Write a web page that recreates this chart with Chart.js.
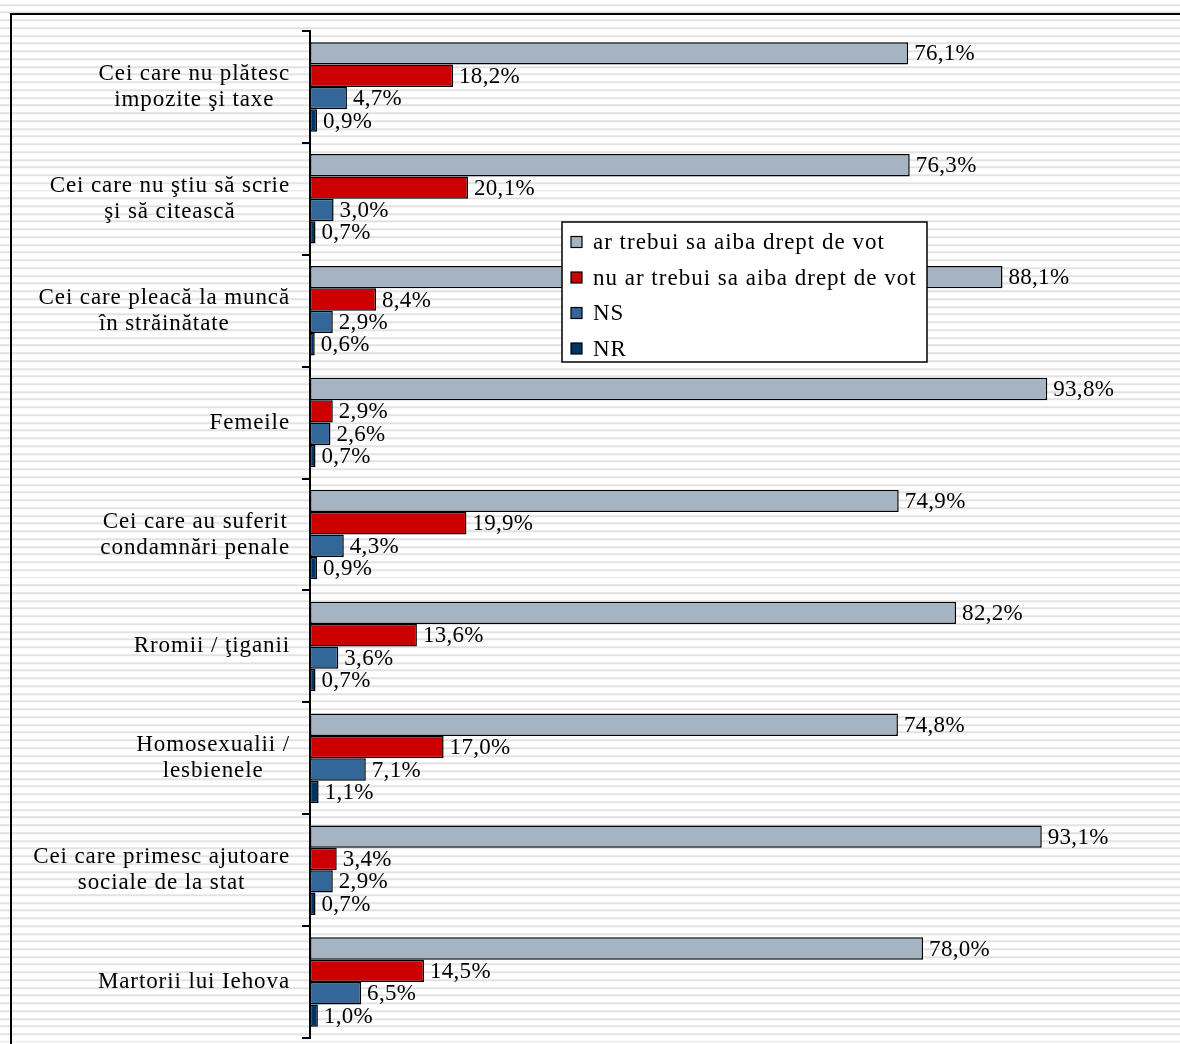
<!DOCTYPE html>
<html>
<head>
<meta charset="utf-8">
<script src="https://cdn.jsdelivr.net/npm/chart.js@4/dist/chart.umd.min.js"></script>
<style>
  html, body { margin: 0; padding: 0; }
  body {
    width: 1180px; height: 1044px; overflow: hidden; position: relative;
    background: repeating-linear-gradient(to bottom, #fff 0, #fff 5.74px, #e2e2e2 5.74px, #e2e2e2 7.74px);
    background-position: 0 -1.74px;
  }
  #frame {
    position: absolute; left: 10px; top: 13px; width: 1200px; height: 1100px;
    border-left: 2px solid #000; border-top: 2px solid #000;
  }
  #wrap { position: absolute; left: 0; top: 0; width: 1180px; height: 1044px; }
</style>
</head>
<body>
<div id="frame"></div>
<div id="wrap"><canvas id="myBarChart"></canvas></div>
<script>
// Data
var categories = [
  ["Cei care nu plătesc", "impozite şi taxe"],
  ["Cei care nu ştiu să scrie", "şi să citească"],
  ["Cei care pleacă la muncă", "în străinătate"],
  ["Femeile"],
  ["Cei care au suferit", "condamnări penale"],
  ["Rromii / ţiganii"],
  ["Homosexualii /", "lesbienele"],
  ["Cei care primesc ajutoare", "sociale de la stat"],
  ["Martorii lui Iehova"]
];
var seriesNames = ["ar trebui sa aiba drept de vot", "nu ar trebui sa aiba drept de vot", "NS", "NR"];
var daValues = [76.1, 76.3, 88.1, 93.8, 74.9, 82.2, 74.8, 93.1, 78.0];
var nuValues = [18.2, 20.1, 8.4, 2.9, 19.9, 13.6, 17.0, 3.4, 14.5];
var nsValues = [4.7, 3.0, 2.9, 2.6, 4.3, 3.6, 7.1, 2.9, 6.5];
var nrValues = [0.9, 0.7, 0.6, 0.7, 0.9, 0.7, 1.1, 0.7, 1.0];
var seriesColors = ["#a5b4c3", "#cc0000", "#336699", "#003366"];

var FONT = "23px 'Liberation Serif', 'Times New Roman', serif";

function fmt(v) {
  return v.toFixed(1).replace(".", ",") + "%";
}

// Value labels to the right of each bar
var valueLabels = {
  id: "valueLabels",
  afterDatasetsDraw: function (chart) {
    var ctx = chart.ctx;
    ctx.save();
    ctx.font = FONT;
    ctx.letterSpacing = "0.3px";
    ctx.fillStyle = "#000";
    ctx.textAlign = "left";
    ctx.textBaseline = "middle";
    chart.data.datasets.forEach(function (ds, di) {
      chart.getDatasetMeta(di).data.forEach(function (bar, i) {
        ctx.fillText(fmt(ds.data[i]), bar.x + 6, bar.y + 1);
      });
    });
    ctx.restore();
  }
};

// Category labels: block right aligned, lines centered inside the block
var categoryLabels = {
  id: "categoryLabels",
  afterDraw: function (chart) {
    var ctx = chart.ctx;
    var y = chart.scales.y;
    var right = y.right - 20;
    ctx.save();
    ctx.font = FONT;
    ctx.letterSpacing = "0.9px";
    ctx.fillStyle = "#000";
    ctx.textAlign = "center";
    ctx.textBaseline = "middle";
    categories.forEach(function (lines, i) {
      var w = 0;
      lines.forEach(function (l) { w = Math.max(w, ctx.measureText(l).width); });
      var cx = right - w / 2;
      var cy = y.getPixelForValue(i);
      var lh = 26;
      var top = cy - (lines.length - 1) * lh / 2;
      lines.forEach(function (l, k) {
        ctx.fillText(l, cx, top + k * lh);
      });
    });
    ctx.restore();
  }
};

// Legend box inside the plot
var boxLegend = {
  id: "boxLegend",
  afterDraw: function (chart) {
    var ctx = chart.ctx;
    ctx.save();
    ctx.fillStyle = "#fff";
    ctx.fillRect(562, 222, 365, 140);
    ctx.strokeStyle = "#000";
    ctx.lineWidth = 1.5;
    ctx.strokeRect(562, 222, 365, 140);
    ctx.font = FONT;
    ctx.letterSpacing = "1px";
    ctx.textBaseline = "middle";
    ctx.textAlign = "left";
    chart.data.datasets.forEach(function (ds, i) {
      var cy = 242 + i * 35.5;
      ctx.fillStyle = ds.backgroundColor;
      ctx.fillRect(571, cy - 5.5, 11, 11);
      ctx.lineWidth = 1.2;
      ctx.strokeRect(571, cy - 5.5, 11, 11);
      ctx.fillStyle = "#000";
      ctx.fillText(ds.label, 593, cy + 1);
    });
    ctx.restore();
  }
};

var ctx = document.getElementById("myBarChart");
var allValues = [daValues, nuValues, nsValues, nrValues];
var myBarChart = new Chart(ctx, {
  type: "bar",
  data: {
    labels: categories.map(function (c) { return c.join(" "); }),
    datasets: allValues.map(function (vals, i) {
      return {
        label: seriesNames[i],
        data: vals,
        backgroundColor: seriesColors[i],
        borderColor: "#000",
        borderWidth: 1.5,
        borderSkipped: false,
        categoryPercentage: 0.8,
        barPercentage: 1.0
      };
    })
  },
  options: {
    indexAxis: "y",
    responsive: true,
    maintainAspectRatio: false,
    animation: false,
    layout: { padding: { top: 31, bottom: 6, right: 5.4, left: 0 } },
    plugins: {
      legend: { display: false },
      tooltip: { enabled: false }
    },
    scales: {
      x: {
        display: false,
        min: 0,
        max: 110
      },
      y: {
        afterFit: function (scale) { scale.width = 310; },
        grid: {
          offset: true,
          drawOnChartArea: false,
          drawTicks: true,
          tickLength: 8,
          color: "#000",
          lineWidth: 2
        },
        border: { display: true, color: "#000", width: 2 },
        ticks: { display: false }
      }
    }
  },
  plugins: [valueLabels, categoryLabels, boxLegend]
});
</script>
</body>
</html>
